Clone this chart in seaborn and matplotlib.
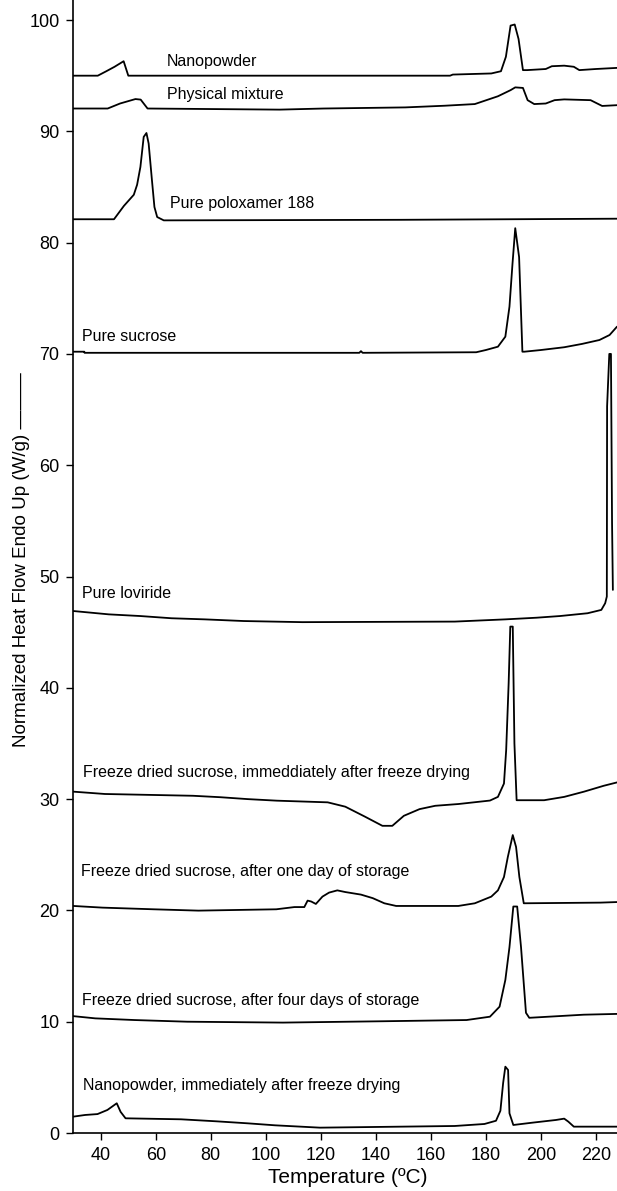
import matplotlib
matplotlib.use("Agg")
import matplotlib.pyplot as plt
import seaborn as sns

# ---------------- data ----------------
nano_x = [30, 38.9, 42, 45, 48.3, 50, 60, 167, 168, 182, 185.5, 187.3, 189, 190.5, 191.9, 193.5, 195, 201.8, 204, 208.5, 212, 214, 220, 227.7]
nano_y = [95.0, 95.0, 95.4, 95.8, 96.3, 95.0, 95.0, 95.0, 95.1, 95.2, 95.4, 96.7, 99.5, 99.6, 98.3, 95.5, 95.5, 95.6, 95.85, 95.9, 95.8, 95.5, 95.6, 95.7]

pm_x = [30, 42.5, 47, 52.6, 54.5, 57, 105, 121, 150.7, 165, 176, 184.4, 189, 190.7, 193.5, 195.2, 197.6, 201.8, 205, 208.5, 218.1, 222.3, 227.7]
pm_y = [92.05, 92.05, 92.5, 92.9, 92.85, 92.05, 91.95, 92.05, 92.15, 92.3, 92.45, 93.15, 93.7, 93.95, 93.9, 92.8, 92.45, 92.5, 92.8, 92.87, 92.8, 92.28, 92.35]

pol_x = [30, 44.8, 48.4, 52.0, 53.2, 54.4, 55.6, 56.6, 57.4, 58.6, 59.5, 60.5, 62.9, 149, 227.7]
pol_y = [82.1, 82.1, 83.3, 84.3, 85.2, 86.8, 89.5, 89.85, 88.9, 85.6, 83.2, 82.3, 82.0, 82.05, 82.15]

suc_x = [30, 34, 34.1, 134, 134.6, 135.2, 176.5, 180, 184.4, 187.1, 188.6, 189.7, 190.7, 192.1, 193.3, 194, 200, 208.5, 215, 221.3, 225, 227.7]
suc_y = [70.2, 70.2, 70.1, 70.1, 70.25, 70.1, 70.15, 70.35, 70.65, 71.55, 74.25, 78.1, 81.3, 78.7, 70.2, 70.2, 70.35, 70.6, 70.9, 71.25, 71.7, 72.45]

lov_x = [30, 42.9, 54.3, 65.7, 77.8, 92, 113.3, 168.7, 187.1, 198.5, 207, 217, 222, 223.4, 224.0, 224.1, 224.9, 225.5, 225.9, 226.2]
lov_y = [46.9, 46.6, 46.45, 46.25, 46.15, 46.0, 45.9, 45.95, 46.15, 46.3, 46.45, 46.7, 47.0, 47.6, 48.2, 65.3, 70.0, 70.0, 54.8, 48.8]

fd0_x = [30, 41.5, 73.5, 83.5, 93.4, 104, 122.5, 128.9, 136, 142.4, 146, 150.2, 155.9, 161.6, 170.1, 181.5, 184.4, 186.6, 187.4, 188.3, 188.9, 189.8, 190.4, 191.2, 201.2, 208.5, 215.7, 222.9, 227.7]
fd0_y = [30.67, 30.46, 30.3, 30.17, 30.0, 29.86, 29.71, 29.32, 28.43, 27.6, 27.6, 28.5, 29.1, 29.4, 29.56, 29.87, 30.2, 31.4, 34.4, 40.4, 45.5, 45.5, 35.0, 29.9, 29.9, 30.2, 30.67, 31.2, 31.5]

fd1_x = [30, 40.6, 59.2, 75.5, 103.8, 110.4, 114, 115.2, 116.5, 118.2, 120.6, 123, 126, 128.9, 134.6, 138.9, 143.1, 147.4, 170, 176, 182, 184.4, 186.6, 188, 189.8, 191, 192.2, 193.8, 221.7, 227.7]
fd1_y = [20.4, 20.25, 20.1, 19.98, 20.1, 20.3, 20.3, 20.88, 20.8, 20.58, 21.24, 21.6, 21.8, 21.65, 21.42, 21.1, 20.64, 20.4, 20.4, 20.64, 21.24, 21.8, 23.0, 24.8, 26.77, 25.7, 23.0, 20.64, 20.7, 20.75]

fd4_x = [30, 38, 52.2, 71.4, 106.2, 142.4, 173, 181.5, 185, 187.1, 188.6, 190, 191.4, 192.8, 194.6, 195.8, 215.6, 227.7]
fd4_y = [10.5, 10.3, 10.15, 10.0, 9.92, 10.04, 10.15, 10.45, 11.35, 13.75, 16.7, 20.35, 20.35, 16.7, 10.8, 10.35, 10.63, 10.7]

nfd_x = [30, 34.3, 38.8, 42.4, 45.8, 47.2, 49.0, 69.2, 82, 93.4, 103.4, 119.7, 168.7, 179.5, 183.7, 185.3, 186.3, 187.1, 188.1, 188.6, 190, 197, 205.5, 208.5, 210, 212, 227.7]
nfd_y = [1.47, 1.62, 1.7, 2.07, 2.67, 1.9, 1.32, 1.23, 1.05, 0.87, 0.69, 0.48, 0.63, 0.81, 1.1, 2.0, 4.5, 5.96, 5.66, 1.77, 0.72, 0.93, 1.17, 1.29, 1.02, 0.57, 0.57]

series_names = ["Nanopowder", "Physical mixture", "Pure poloxamer 188", "Pure sucrose",
                "Pure loviride",
                "Freeze dried sucrose, immeddiately after freeze drying",
                "Freeze dried sucrose, after one day of storage",
                "Freeze dried sucrose, after four days of storage",
                "Nanopowder, immediately after freeze drying"]
label_x = [64.1, 64.1, 65.0, 33.0, 33.3, 33.7, 32.8, 33.0, 33.7]
label_y = [96.3, 93.35, 83.5, 71.6, 48.5, 32.4, 23.5, 11.95, 4.25]

x_ticks = [40, 60, 80, 100, 120, 140, 160, 180, 200, 220]
y_ticks = [0, 10, 20, 30, 40, 50, 60, 70, 80, 90, 100]
x_label = "Temperature (ºC)"
y_label = "Normalized Heat Flow Endo Up (W/g) ———"

# ---------------- plotting ----------------
sns.set_theme(style="ticks")
plt.rcParams["font.family"] = ["Liberation Sans", "DejaVu Sans"]

fig = plt.figure(figsize=(6.17, 11.91), dpi=100)
ax = fig.add_axes([73.3 / 617, 58 / 1191, 1 - 73.3 / 617, 1 - 58 / 1191])

all_x = [nano_x, pm_x, pol_x, suc_x, lov_x, fd0_x, fd1_x, fd4_x, nfd_x]
all_y = [nano_y, pm_y, pol_y, suc_y, lov_y, fd0_y, fd1_y, fd4_y, nfd_y]
for xs, ys in zip(all_x, all_y):
    sns.lineplot(x=xs, y=ys, ax=ax, color="black", lw=1.3, estimator=None,
                 sort=False, legend=False)

for name, lx, ly in zip(series_names, label_x, label_y):
    ax.text(lx, ly, name, fontsize=11.5, ha="left", va="center", color="black")

ax.set_xlim(30, 227.7)
ax.set_ylim(0, 101.8)
ax.set_xticks(x_ticks)
ax.set_yticks(y_ticks)
ax.tick_params(axis="both", labelsize=13, colors="black", length=5, width=1.0,
               direction="out")
ax.tick_params(axis="x", pad=5)
ax.tick_params(axis="y", pad=5)
sns.despine(ax=ax)
for s in ("left", "bottom"):
    ax.spines[s].set_linewidth(1.2)
    ax.spines[s].set_color("black")

ax.set_xlabel(x_label, fontsize=15, color="black")
ax.set_ylabel(y_label, fontsize=13.5, color="black")
ax.xaxis.set_label_coords(0.505, -0.031)
ax.yaxis.set_label_coords(-0.08, 0.506)
ax.grid(False)
ax.set_facecolor("white")
fig.patch.set_facecolor("white")

fig.savefig("out.png", dpi=100)
